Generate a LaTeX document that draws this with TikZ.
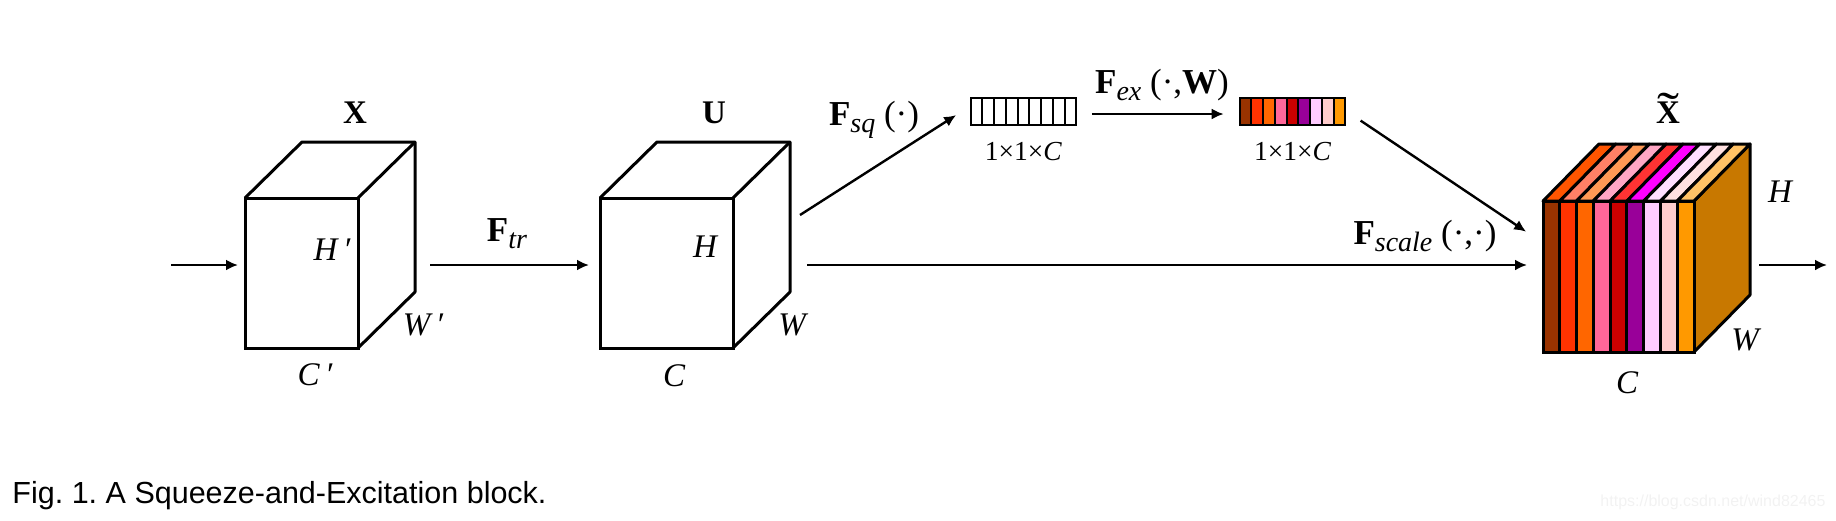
\documentclass[tikz,border=0pt]{standalone}
\usepackage{fontspec}
\setmainfont{Liberation Serif}
\newfontfamily\capfont{Liberation Sans}
\usepackage{xcolor}
\usetikzlibrary{arrows.meta,positioning,fit,calc}
\definecolor{sliceA}{HTML}{993300}
\definecolor{sliceB}{HTML}{FF3300}
\definecolor{sliceC}{HTML}{FF6600}
\definecolor{sliceD}{HTML}{FF6699}
\definecolor{sliceE}{HTML}{CC0000}
\definecolor{sliceF}{HTML}{990099}
\definecolor{sliceG}{HTML}{FFCCFF}
\definecolor{sliceH}{HTML}{FFCCCC}
\definecolor{sliceI}{HTML}{FF9900}
\definecolor{topA}{HTML}{FF5500}
\definecolor{topB}{HTML}{FF8066}
\definecolor{topC}{HTML}{FF9955}
\definecolor{topD}{HTML}{FFA6C4}
\definecolor{topE}{HTML}{FF3333}
\definecolor{topF}{HTML}{FF00FF}
\definecolor{topG}{HTML}{FFDFFF}
\definecolor{topH}{HTML}{FFE0E0}
\definecolor{topI}{HTML}{FFC266}
\definecolor{sideT}{HTML}{C87800}
\newcommand{\Fsub}[1]{\textbf{F}\raisebox{-7pt}{\fontsize{28}{29}\selectfont\itshape #1}}
\newcommand{\tildeX}{\ooalign{\hfil\raisebox{-3pt}{\scalebox{2}[1.5]{\mdseries ˜}}\hfil\cr X}}
\frenchspacing

\begin{document}
\begin{tikzpicture}[
  x=1pt, y=-1pt,
  line width=3pt,
  face/.style={rectangle, draw, inner sep=0pt, outer sep=0pt},
  cell/.style={face, line width=2pt, minimum width=11.74pt, minimum height=27pt},
  arr/.style={-{Latex[length=12pt,width=11pt]}, line width=2.4pt},
  lab/.style={font=\fontsize{33}{35}\selectfont\itshape, inner sep=0pt},
  cubename/.style={font=\fontsize{33}{35}\selectfont\bfseries, inner sep=0pt, anchor=base},
  func/.style={font=\fontsize{35}{37}\selectfont, inner sep=0pt},
  dimlab/.style={font=\fontsize{27.5}{30}\selectfont, inner sep=0pt}
]
  \useasboundingbox (0,0) rectangle (1836,520);

  % input cube
  \node[face, minimum width=113pt, minimum height=150pt] (xfront) at (301.5,273) {};
  \coordinate (xtop) at (415,142);
  \draw[line join=round] (xfront.north west) -- (302,142) -- (xtop) -- (415,292) -- (xfront.south east);
  \draw (xfront.north east) -- (xtop);
  \node[cubename] (xname) at (355,123) {X};
  \node[lab] (xh) at (332,250) {H\,′};
  \node[lab] (xw) at (423,325) {W\,′};
  \node[lab] (xc) at (315,375) {C\,′};

  % transformed cube
  \node[face, minimum width=133pt, minimum height=150pt] (ufront) at (666.5,273) {};
  \coordinate (utop) at (790,142);
  \draw[line join=round] (ufront.north west) -- (657,142) -- (utop) -- (790,292) -- (ufront.south east);
  \draw (ufront.north east) -- (utop);
  \node[cubename] (uname) at (714,123) {U};
  \node[lab] (uh) at (705,247) {H};
  \node[lab] (uw) at (792,325) {W};
  \node[lab] (uc) at (674,376) {C};

  % squeezed vector
  \foreach \i in {0,...,8}
    \node[cell] (sq\i) at ({976.5+\i*11.74},111.4) {};
  \node[fit=(sq0)(sq8), inner sep=0pt] (sqbar) {};
  \node[dimlab, below=14pt of sqbar] (sqdim) {1×1×\textit{C}};

  % excited vector
  \foreach \i/\col in {0/sliceA,1/sliceB,2/sliceC,3/sliceD,4/sliceE,5/sliceF,6/sliceG,7/sliceH,8/sliceI}
    \node[cell, fill=\col] (ex\i) at ({1245.6+\i*11.74},111.4) {};
  \node[fit=(ex0)(ex8), inner sep=0pt] (exbar) {};
  \node[dimlab, below=14pt of exbar] (exdim) {1×1×\textit{C}};

  % output cube
  \node[face, minimum width=151pt, minimum height=151pt] (tfront) at (1618.5,276.5) {};
  \coordinate (ttop) at (1750,144);
  \filldraw[fill=sideT, line join=round] (tfront.north east) -- (ttop) -- (1750,295) -- (tfront.south east) -- cycle;
  \foreach \i/\col/\tp in {0/sliceA/topA,1/sliceB/topB,2/sliceC/topC,3/sliceD/topD,4/sliceE/topE,5/sliceF/topF,6/sliceG/topG,7/sliceH/topH,8/sliceI/topI} {
    \node[face, fill=\col, minimum width=16.78pt, minimum height=151pt] (t\i) at ({1551.4+\i*16.78},276.5) {};
    \filldraw[fill=\tp, line join=round] (t\i.north west) -- ++(56,-57) -- ++(16.78,0) -- (t\i.north east) -- cycle;
  }
  \node[cubename] (tname) at (1668,123) {\tildeX};
  \node[lab] (th) at (1780,192) {H};
  \node[lab] (tw) at (1745,340) {W};
  \node[lab] (tc) at (1627,383) {C};

  % free ends of the connectors
  \coordinate (xin) at (171,265);
  \coordinate (xout) at (430,265);
  \coordinate (uout) at (807,265);
  \coordinate (usq) at (800,215);
  \coordinate (tout) at (1759,265);
  \coordinate (tend) at (1827,265);

  \draw[arr, shorten >=7pt] (xin) -- (xin -| xfront.west);
  \draw[arr, shorten >=11pt] (xout) -- (xout -| ufront.west);
  \draw[arr, shorten >=16pt] (uout) -- (uout -| tfront.west);
  \draw[arr] (tout) -- (tend);
  \draw[arr, shorten >=15.4pt] (usq) -- ([yshift=4.6pt]sqbar.west);
  \draw[arr, shorten <=14pt, shorten >=14.5pt] ([yshift=-2.6pt]sqbar.east) -- ([yshift=-2.6pt]exbar.west);
  \draw[arr, shorten <=16.5pt, shorten >=20.3pt] (exbar.east) -- ([yshift=33.5pt]tfront.west);

  \node[func] (ftr) at (507,234) {\Fsub{tr}};
  \node[func] (fsq) at (874,120) {\Fsub{sq}\ (·)};
  \node[func] (fex) at (1162,85) {\Fsub{ex}\ (·,\textbf{W})};
  \node[func] (fscale) at (1425,236) {\Fsub{scale}\ (·,·)};

  \node[anchor=west, inner sep=0pt, font=\fontsize{30.5}{33}\selectfont\capfont] (caption) at (11,496) {Fig. 1. A Squeeze-and-Excitation block.};
  \node[anchor=east, inner sep=0pt, text=black!5, font=\fontsize{16}{18}\selectfont\capfont] (mark) at (1827,502) {https://blog.csdn.net/wind82465};
\end{tikzpicture}
\end{document}
